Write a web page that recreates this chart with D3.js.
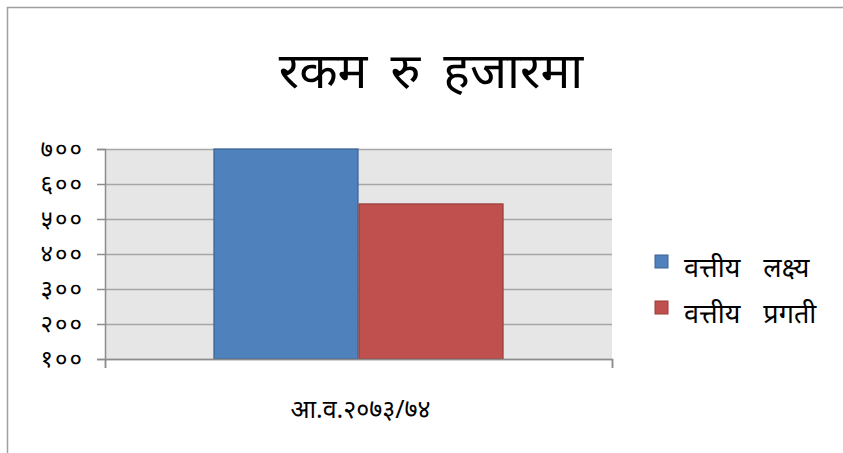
<!DOCTYPE html>
<html lang="ne">
<head>
<meta charset="utf-8">
<title>रकम रु हजारमा</title>
<script src="https://d3js.org/d3.v7.min.js"></script>
<style>
  body { margin: 0; background: #fff; }
  svg text { font-family: "Noto Sans", "Open Sans", sans-serif; fill: #000; }
</style>
</head>
<body>
<div id="chart"></div>
<script>
// data
var categories = ["आ.व.२०७३/७४"];
var seriesNames = ["वत्तीय लक्ष्य", "वत्तीय प्रगती"];
var seriesValues = [700, 543];
var seriesColors = ["#4f81bd", "#c0504d"];
var seriesStrokes = ["#3a6494", "#9b3b38"];
var yTicks = [100, 200, 300, 400, 500, 600, 700];
var yTickLabels = ["१००", "२००", "३००", "४००", "५००", "६००", "७००"];

var W = 843, H = 453;
var plot = { left: 105, right: 612, top: 149, bottom: 359 };

var svg = d3.select("#chart").append("svg")
    .attr("width", W)
    .attr("height", H);

// outer frame (cut at right and bottom)
svg.append("path")
   .attr("d", "M7.5," + H + "V7.5H" + W)
   .attr("fill", "none")
   .attr("stroke", "#a0a0a0")
   .attr("stroke-width", 1.5);

// title
svg.append("text")
   .attr("x", 431)
   .attr("y", 88)
   .attr("text-anchor", "middle")
   .style("font-size", "50px")
   .style("word-spacing", "10px")
   .text("रकम रु हजारमा");

var y = d3.scaleLinear()
          .domain([100, 700])
          .range([plot.bottom, plot.top]);

var x = d3.scaleBand()
          .domain(categories)
          .range([plot.left, plot.right])
          .paddingInner(0)
          .paddingOuter(0.374);

var xs = d3.scaleBand()
           .domain(seriesNames)
           .range([0, x.bandwidth()]);

// plot background
svg.append("rect")
   .attr("x", plot.left)
   .attr("y", plot.top)
   .attr("width", plot.right - plot.left)
   .attr("height", plot.bottom - plot.top)
   .attr("fill", "#e6e6e6");

// gridlines
svg.selectAll(".grid")
   .data(yTicks)
   .enter().append("line")
   .attr("x1", plot.left)
   .attr("x2", plot.right)
   .attr("y1", d => Math.round(y(d)) + 0.5)
   .attr("y2", d => Math.round(y(d)) + 0.5)
   .attr("stroke", "#a6a6a6")
   .attr("stroke-width", 1.5);

// bars
var bars = categories.map(function(c) {
  return seriesNames.map(function(s, i) {
    return { cat: c, name: s, value: seriesValues[i], i: i };
  });
})[0];

svg.selectAll(".bar")
   .data(bars)
   .enter().append("rect")
   .attr("x", d => x(d.cat) + xs(d.name) + 0.5)
   .attr("y", d => y(Math.min(d.value, 700)))
   .attr("width", xs.bandwidth() - 1)
   .attr("height", d => plot.bottom - y(Math.min(d.value, 700)))
   .attr("fill", d => seriesColors[d.i])
   .attr("stroke", d => seriesStrokes[d.i])
   .attr("stroke-width", 1.2);

// y axis
var yAxis = d3.axisLeft(y)
              .tickValues(yTicks)
              .tickSize(8)
              .tickPadding(13)
              .tickFormat((d, i) => yTickLabels[i]);

var gy = svg.append("g")
   .attr("transform", "translate(" + plot.left + ",0)")
   .call(yAxis);
gy.select(".domain").attr("stroke", "#8c8c8c").attr("stroke-width", 1.5);
gy.selectAll(".tick line").attr("stroke", "#8c8c8c").attr("stroke-width", 1.5);
gy.selectAll(".tick text")
  .attr("font-family", null)
  .attr("font-size", null)
  .style("font-size", "24px")
  .style("letter-spacing", "2px");

// x axis
var xAxis = d3.axisBottom(d3.scaleLinear().domain([0, 1]).range([plot.left, plot.right]))
              .tickValues([0, 1])
              .tickSize(9)
              .tickFormat("");
var gx = svg.append("g")
   .attr("transform", "translate(0," + plot.bottom + ")")
   .call(xAxis);
gx.select(".domain").attr("stroke", "#8c8c8c").attr("stroke-width", 1.5);
gx.selectAll(".tick line").attr("stroke", "#8c8c8c").attr("stroke-width", 1.5);

svg.selectAll(".cat")
   .data(categories)
   .enter().append("text")
   .attr("x", d => x(d) + x.bandwidth() / 2 + 2)
   .attr("y", 418)
   .attr("text-anchor", "middle")
   .style("font-size", "25px")
   .text(d => d);

// legend
var legend = svg.selectAll(".legend")
   .data(seriesNames)
   .enter().append("g")
   .attr("transform", (d, i) => "translate(655," + (255 + i * 46) + ")");

legend.append("rect")
   .attr("width", 13)
   .attr("height", 13)
   .attr("fill", (d, i) => seriesColors[i])
   .attr("stroke", (d, i) => seriesStrokes[i]);

legend.append("text")
   .attr("x", 29)
   .attr("y", 22)
   .style("font-size", "27px")
   .style("word-spacing", "16px")
   .text(d => d);
</script>
</body>
</html>
